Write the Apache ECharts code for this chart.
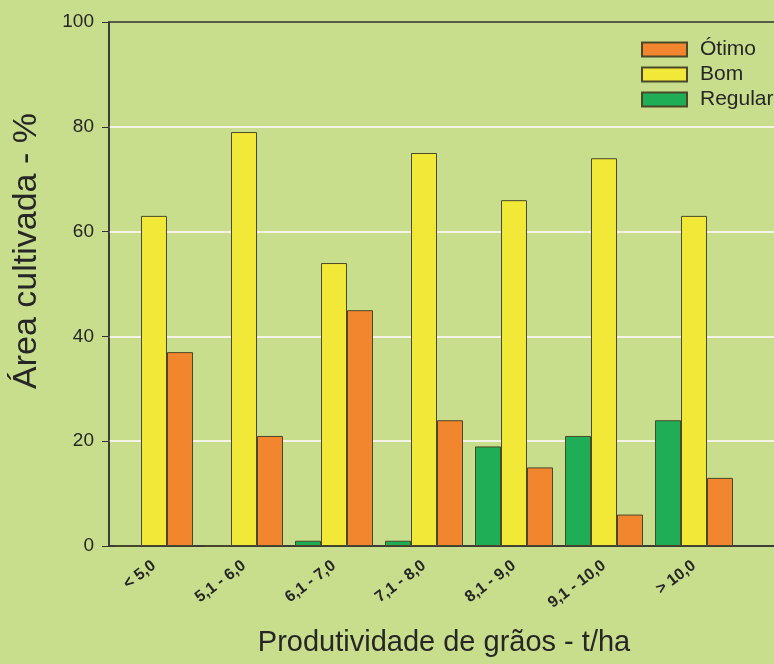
<!DOCTYPE html>
<html>
<head>
    <meta http-equiv="Content-Type" content="text/html; charset=utf-8" />
    <title>Área cultivada</title>
    <style type="text/css">
        * { margin: 0; padding: 0 }
        html, body { width: 100%; height: 100%; background: #c8de8c; overflow: hidden; }
        /* o gráfico original continua além da borda direita */
        #chart { width: 829px; height: 664px; }
    </style>
</head>
<body>
    <div id="chart"></div>
    <script src="https://cdn.jsdelivr.net/npm/echarts@6/dist/echarts.min.js"></script>
    <script>
        // faixas de produtividade (t/ha)
        const categories = ['< 5,0', '5,1 - 6,0', '6,1 - 7,0', '7,1 - 8,0', '8,1 - 9,0', '9,1 - 10,0', '> 10,0'];
        // % da área cultivada
        const regular = [0, 0, 1, 1, 19, 21, 24];
        const bom = [63, 79, 54, 75, 66, 74, 63];
        const otimo = [37, 21, 45, 24, 15, 6, 13];
        const yTicks = { min: 0, max: 100, step: 20 };

        const font = 'Liberation Sans, Arial, sans-serif';
        const ink = '#262626';
        const edge = '#4a4828';

        const bar = (name, data, color) => ({
            name: name,
            type: 'bar',
            data: data,
            barWidth: 26,
            barGap: '0%',
            itemStyle: { color: color, borderColor: edge, borderWidth: 1 }
        });

        const myChart = echarts.init(document.querySelector('#chart'));
        const option = {
            backgroundColor: '#c8de8c',
            animation: false,
            grid: {
                left: 109, top: 22, right: 0, bottom: 118,
                show: true, borderColor: '#333', borderWidth: 1.5,
                backgroundColor: 'transparent'
            },
            legend: {
                data: ['Ótimo', 'Bom', 'Regular'],
                orient: 'vertical',
                left: 636, top: 34,
                icon: 'rect',
                itemWidth: 45, itemHeight: 14, itemGap: 4,
                textStyle: { fontFamily: font, fontSize: 21, color: ink, padding: [0, 0, 0, 8] }
            },
            xAxis: {
                type: 'category',
                data: categories,
                max: categories.length, // o eixo continua além da última faixa
                axisLine: { lineStyle: { color: '#333', width: 1.5 } },
                axisTick: { alignWithLabel: true, interval: 0, length: 6, lineStyle: { color: '#333' } },
                axisLabel: {
                    interval: 0, rotate: 37, margin: 18,
                    fontFamily: font, fontSize: 16, fontWeight: 'bold', color: ink,
                    formatter: v => (categories.indexOf(v) >= 0 ? v : '')
                },
                splitLine: { show: false }
            },
            yAxis: {
                type: 'value',
                min: yTicks.min, max: yTicks.max, interval: yTicks.step,
                axisLine: { show: true, lineStyle: { color: '#333', width: 1.5 } },
                axisTick: { show: true, length: 7, lineStyle: { color: '#333' } },
                axisLabel: { margin: 15, fontFamily: font, fontSize: 19, color: ink },
                splitLine: {
                    show: true, showMinLine: false, showMaxLine: false,
                    lineStyle: { color: '#f3f4e6', width: 2 }
                }
            },
            graphic: [
                {
                    type: 'text', x: 27, y: 251, rotation: Math.PI / 2,
                    style: {
                        text: 'Área cultivada - %', fontFamily: font, fontSize: 34,
                        fill: ink, textAlign: 'center', textVerticalAlign: 'middle'
                    }
                },
                {
                    type: 'text', x: 444, y: 643,
                    style: {
                        text: 'Produtividade de grãos - t/ha', fontFamily: font, fontSize: 29,
                        fill: ink, textAlign: 'center', textVerticalAlign: 'middle'
                    }
                }
            ],
            series: [
                bar('Regular', regular, '#1fae55'),
                bar('Bom', bom, '#f2e838'),
                bar('Ótimo', otimo, '#f2862f')
            ]
        };
        myChart.setOption(option);
    </script>
</body>
</html>
